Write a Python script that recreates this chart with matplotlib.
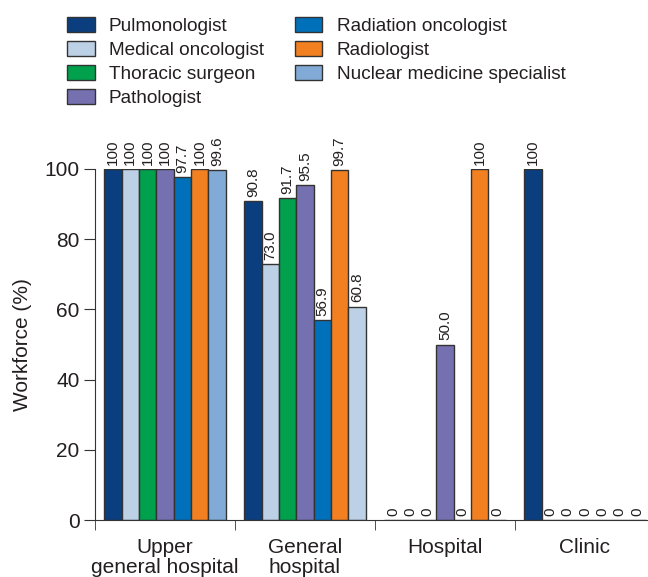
import numpy as np
import matplotlib.pyplot as plt
from matplotlib.patches import Patch

plt.rcParams['font.family'] = ['Liberation Sans', 'DejaVu Sans']

specialists = ["Pulmonologist", "Medical oncologist", "Thoracic surgeon", "Pathologist",
               "Radiation oncologist", "Radiologist", "Nuclear medicine specialist"]
groups = ["Upper\ngeneral hospital", "General\nhospital", "Hospital", "Clinic"]

upper_general = [100, 100, 100, 100, 97.7, 100, 99.6]
general = [90.8, 73.0, 91.7, 95.5, 56.9, 99.7, 60.8]
hospital = [0, 0, 0, 50.0, 0, 100, 0]
clinic = [100, 0, 0, 0, 0, 0, 0]

colors = ["#0a3e7e", "#bcd0e6", "#00a04c", "#7570b0", "#0070bb", "#f28020", "#82aad6"]
# the last bar in the general hospital group is drawn in the lighter shade in the original
group_colors = [colors, colors[:6] + ["#bcd0e6"], colors, colors]

text_color = "#231f20"
edge_color = "#333333"
fs = 15

fig = plt.figure(figsize=(6.48, 5.77), dpi=100)
ax = fig.add_axes([95 / 648, 1 - 520 / 577, 553 / 648, 351 / 577])

width = 0.124
data = [upper_general, general, hospital, clinic]
for g, vals in enumerate(data):
    for k, v in enumerate(vals):
        x = g + (k - 3) * width
        ax.bar(x, v, width=width, color=group_colors[g][k], edgecolor=edge_color,
               linewidth=1.0, zorder=2)
        lbl = "100" if v == 100 else ("0" if v == 0 else f"{v:.1f}")
        ax.text(x, v + 1.2, lbl, rotation=90, ha="center", va="bottom",
                fontsize=11, color=text_color, clip_on=False)

ax.set_xlim(-0.5, -0.5 + 553 / 140)
ax.set_ylim(0, 100)
ax.spines["top"].set_visible(False)
ax.spines["right"].set_visible(False)
ax.spines["left"].set_color(edge_color)
ax.spines["bottom"].set_color(edge_color)

ax.set_yticks([0, 20, 40, 60, 80, 100])
ax.tick_params(axis="y", labelsize=fs, length=8, color=edge_color, labelcolor=text_color, pad=3)

ax.set_xticks(range(len(groups)))
ax.set_xticklabels(groups, fontsize=fs, color=text_color, linespacing=1.05)
ax.tick_params(axis="x", which="major", length=0, pad=13)
ax.set_xticks([-0.5, 0.5, 1.5, 2.5], minor=True)
ax.tick_params(axis="x", which="minor", length=7, color=edge_color)

ax.set_ylabel("Workforce (%)", fontsize=fs, color=text_color, labelpad=9)

handles = [Patch(facecolor=c, edgecolor=edge_color, linewidth=1.0) for c in colors]
fig.legend(handles, specialists, ncol=2, loc="upper left",
           bbox_to_anchor=(50 / 648, 1 + 0 / 577), frameon=False, fontsize=13.7,
           handlelength=1.45, handleheight=0.85, handletextpad=0.75,
           labelspacing=0.3, columnspacing=1.62, labelcolor=text_color)

fig.savefig("out.png", dpi=100)
